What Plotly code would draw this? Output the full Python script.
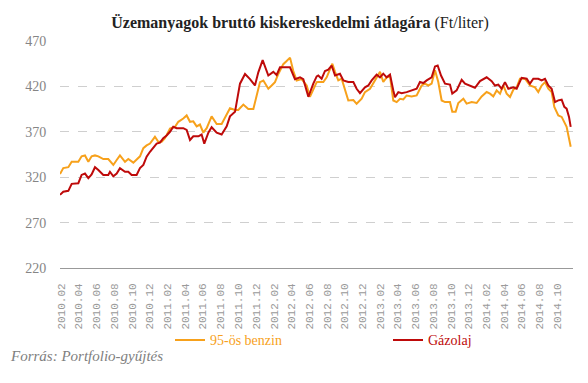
import numpy as np
import pandas as pd
import plotly.graph_objects as go

# time in months after 2010.02 (start of February 2010)
benzin_t = [-0.19, 0.18, 0.75, 1.13, 1.88, 2.25, 2.63, 3.01, 3.38, 3.76, 4.14, 4.70, 5.26, 5.83, 6.21,
            6.58, 7.15, 7.52, 8.09, 8.46, 8.84, 9.22, 9.59, 9.97, 10.53, 10.91, 11.29, 11.66, 12.23,
            12.79, 13.17, 13.73, 14.11, 14.49, 14.86, 15.24, 15.61, 15.99, 16.37, 16.93, 17.50, 18.06,
            18.63, 19.00, 19.57, 19.94, 20.51, 21.07, 21.64, 22.01, 22.39, 22.77, 23.33, 23.71, 24.08,
            24.46, 25.02, 25.40, 25.78, 26.15, 26.53, 27.09, 27.66, 28.03, 28.41, 28.79, 28.97, 29.54,
            29.92, 30.29, 30.56, 30.86, 31.23, 31.61, 31.99, 32.36, 32.93, 33.30, 33.87, 34.24, 34.81,
            35.37, 35.94, 36.31, 36.69, 37.07, 37.44, 37.82, 38.20, 38.57, 38.95, 39.51, 40.08, 40.64,
            41.02, 41.39, 41.77, 42.15, 42.52, 42.90, 43.28, 43.84, 44.10, 44.48, 44.78, 45.35, 45.72,
            46.29, 46.85, 47.42, 47.98, 48.36, 48.73, 49.11, 49.49, 49.86, 50.24, 50.62, 50.99, 51.37,
            51.74, 52.31, 52.87, 53.44, 53.81, 54.19, 54.57, 54.94, 55.32, 55.62, 56.07, 56.45, 56.75,
            57.01, 57.28, 57.47]
benzin = [323.6, 330, 331, 337, 337, 343, 344, 337, 343, 344, 343, 340, 340, 333.5, 339,
          344, 337, 340, 336, 339, 343, 352, 355, 357, 364.5, 359, 359, 363, 373.6,
          375.5, 381, 384.6, 388, 381, 381.5, 376, 378, 369, 374, 387, 378.6, 378.6,
          388.7, 396, 394, 394, 400, 395, 395, 410, 424.7, 426.5, 417.5, 421, 424.7,
          433.7, 444.5, 448, 451.7, 437, 426.5, 428, 421, 408.5, 415.7, 424.7, 424.8, 424.8,
          430, 439.5, 445, 436, 426.6, 428.5, 415.6, 404.5, 405, 400.8, 406.4, 413.7, 417.4,
          426.6, 436, 424.8, 430, 431, 404.5, 402.7, 406.4, 405.6, 410, 409, 410, 421,
          423, 421, 423, 437.7, 424.8, 404.5, 402.7, 402.8, 392, 392, 401.7, 406.5, 401,
          402.8, 401.7, 409, 413.8, 412, 409, 415.6, 412, 421, 412, 408.3, 416.3, 419,
          428.4, 428.4, 421, 419, 413.8, 421, 424.7, 417.4, 413.8, 397.4, 388, 386.4, 381,
          375.5, 362.7, 353.6]

gazolaj_t = [-0.19, 0.18, 0.75, 1.13, 1.88, 2.25, 2.63, 3.01, 3.38, 3.76, 4.14, 4.70, 5.26, 5.45, 5.83,
             6.21, 6.58, 7.15, 7.52, 7.90, 8.46, 8.84, 9.22, 9.59, 9.97, 10.35, 10.72, 11.10, 11.47,
             11.85, 12.23, 12.60, 12.98, 13.36, 13.73, 14.11, 14.49, 14.86, 15.43, 15.80, 16.10, 16.56,
             16.93, 17.50, 18.06, 18.63, 19.00, 19.57, 20.13, 20.70, 21.26, 21.82, 22.20, 22.69, 23.33,
             23.89, 24.27, 24.65, 25.21, 25.78, 26.34, 26.91, 27.28, 27.85, 28.41, 28.79, 28.97, 29.35,
             29.73, 30.10, 30.48, 30.86, 31.42, 31.80, 32.36, 32.93, 33.30, 33.68, 34.24, 34.62, 35.00,
             35.56, 35.94, 36.31, 36.69, 37.07, 37.44, 37.63, 38.01, 38.38, 38.95, 39.51, 40.08, 40.45,
             40.83, 41.21, 41.77, 42.15, 42.45, 42.83, 43.28, 43.84, 44.10, 44.59, 45.16, 45.54, 46.10,
             46.66, 47.23, 47.98, 48.55, 48.92, 49.30, 49.67, 50.05, 50.43, 50.99, 51.37, 51.93, 52.50,
             52.87, 53.25, 53.81, 54.19, 54.57, 54.94, 55.32, 55.70, 56.07, 56.45, 56.75, 57.01, 57.28,
             57.47]
gazolaj = [300.6, 304, 305, 312.7, 313.4, 322.5, 324, 319, 323, 331, 328, 322.5, 322.5, 326, 321,
           324, 330, 326, 326, 322.5, 322.5, 330, 333.5, 342.6, 348, 352, 357, 358, 363,
           366, 370, 375.5, 374, 374, 374, 372, 361, 365, 365, 367, 357, 369,
           375, 369, 367, 376, 387, 392, 423, 433.7, 428, 421, 435.5, 449, 432,
           436, 432.6, 441, 441, 441, 428, 430, 428, 408.5, 423, 431, 432, 428.5,
           437, 438.4, 443, 432, 434, 426.6, 424.8, 424.8, 417.4, 412.6, 419, 421, 426.6,
           433, 430, 434, 430, 433, 415.6, 408, 413.7, 412.6, 413.7, 415.6, 417.4, 424.8,
           423.7, 426.6, 430, 442, 443, 432, 423, 422, 412, 415.6, 427.3, 423, 421,
           418.5, 425.8, 430, 425.8, 421, 422, 417.4, 424.7, 417.4, 419, 417.4, 429.5, 428.4,
           423, 428.4, 428.4, 426.6, 428.4, 421, 417.4, 402.8, 404.6, 405.4, 397.4, 395.5, 386.4,
           375.5]

y_ticks = [220, 270, 320, 370, 420, 470]
series_names = ["95-ös benzin", "Gázolaj"]
title_main = "Üzemanyagok bruttó kiskereskedelmi átlagára"
title_unit = "(Ft/liter)"
source_text = "Forrás: Portfolio-gyűjtés"

ORANGE = "#F7A11B"
RED = "#BE0A0A"

start = pd.Timestamp("2010-02-01")
def to_dates(t):
    return start + pd.to_timedelta(np.array(t) * 30.4375, unit="D")

fig = go.Figure()
fig.add_trace(go.Scatter(
    x=to_dates(benzin_t), y=benzin, mode="lines",
    name=f"<span style='color:{ORANGE}'>{series_names[0]}</span>",
    line=dict(color=ORANGE, width=2)))
fig.add_trace(go.Scatter(
    x=to_dates(gazolaj_t), y=gazolaj, mode="lines",
    name=f"<span style='color:{RED}'>{series_names[1]}</span>",
    line=dict(color=RED, width=2)))

# page body has an 8px default margin; figure sized/positioned to compensate
W, H = 572, 367
L, R, T, B = 52, 7, 33, 106.5
PW, PH = W - L - R, H - T - B

serif = "Liberation Serif"
fig.update_layout(
    width=W, height=H,
    margin=dict(l=L, r=R, t=T, b=B, autoexpand=False),
    paper_bgcolor="white", plot_bgcolor="white",
    font=dict(family=serif, color="#888888"),
    title=dict(text=f"<b>{title_main}</b> {title_unit}", x=292 / W, xanchor="center",
               y=1 - 14 / H, yanchor="middle", font=dict(family=serif, size=16, color="#222222")),
    showlegend=True,
    legend=dict(orientation="h", x=(162 - L) / PW, xanchor="left",
                y=(PH + T - 333) / PH, yanchor="middle",
                font=dict(family=serif, size=14), bgcolor="rgba(0,0,0,0)",
                entrywidth=173, entrywidthmode="pixels", itemwidth=30, traceorder="normal"),
    annotations=[dict(text=f"<i>{source_text}</i>", xref="paper", yref="paper",
                      x=-L / PW, y=(PH + T - 349) / PH, xanchor="left", yanchor="middle",
                      showarrow=False, font=dict(family=serif, size=15, color="#808080"))],
)
fig.update_xaxes(
    type="date",
    range=[to_dates([-0.19])[0], to_dates([57.73])[0]],
    tick0="2010-02-01", dtick="M2", tickformat="%Y.%m", tickangle=-90,
    tickfont=dict(family="Liberation Mono", size=11, color="#9a9a9a"),
    showgrid=False, showline=True, linecolor="#999999", linewidth=1,
    ticks="outside", ticklen=10, tickcolor="rgba(0,0,0,0)", zeroline=False,
)
fig.update_yaxes(
    range=[220, 470], tickvals=y_ticks,
    tickfont=dict(family=serif, size=14, color="#858585"),
    showgrid=True, gridcolor="#cfcfcf", griddash="dash", gridwidth=1,
    ticks="outside", ticklen=10, tickcolor="rgba(0,0,0,0)", zeroline=False, showline=False,
)
fig.write_html("out.html")
